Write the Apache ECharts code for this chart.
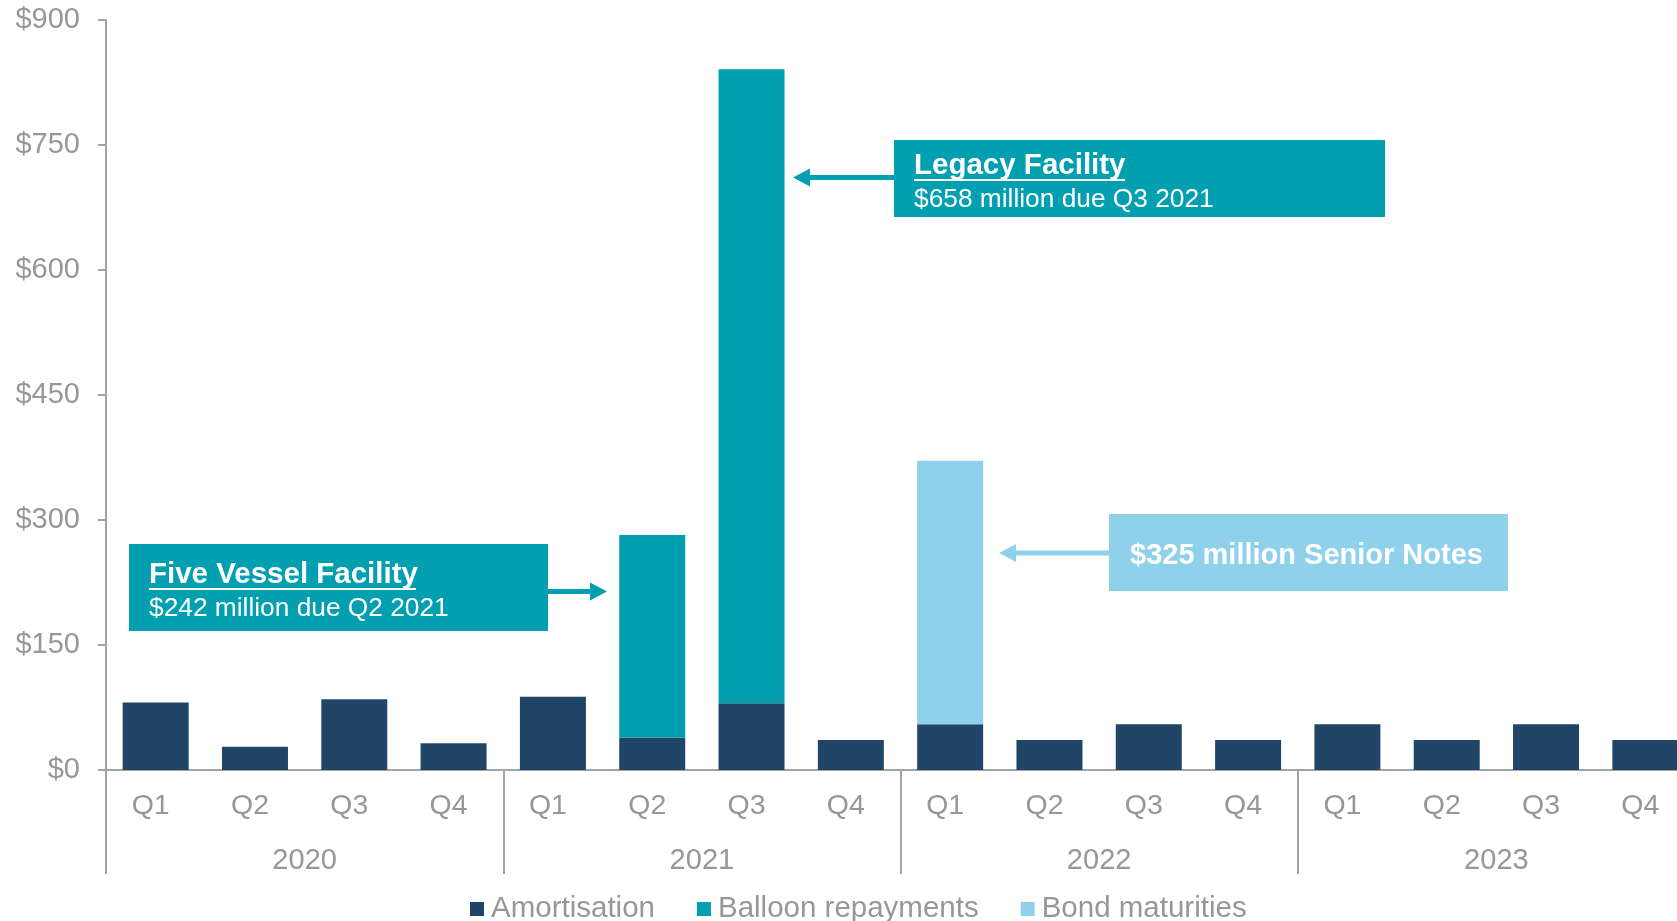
<!DOCTYPE html>
<html>
<head>
<meta charset="utf-8">
<script src="https://cdn.jsdelivr.net/npm/echarts@6/dist/echarts.min.js"></script>
<style>
    html, body { margin: 0; padding: 0; background: #fff; }
    #chart { width: 1677px; height: 921px; }
</style>
</head>
<body>
<div id="chart"></div>
<script>
const quarters = ['Q1', 'Q2', 'Q3', 'Q4', 'Q1', 'Q2', 'Q3', 'Q4', 'Q1', 'Q2', 'Q3', 'Q4', 'Q1', 'Q2', 'Q3', 'Q4'];
const years = ['2020', '2021', '2022', '2023'];
const amortisation = [81, 28, 85, 32, 88, 39, 80, 36, 55, 36, 55, 36, 55, 36, 55, 36];
const balloon = ['-', '-', '-', '-', '-', 243, 761, '-', '-', '-', '-', '-', '-', '-', '-', '-'];
const bonds = ['-', '-', '-', '-', '-', '-', '-', '-', 316, '-', '-', '-', '-', '-', '-', '-'];
const yTicks = [0, 150, 300, 450, 600, 750, 900];

const FONT = '"Liberation Sans", Arial, sans-serif';
const grey = '#979797';
const lineGrey = '#a3a3a3';
const navy = '#214567';
const teal = '#029fb0';
const lightBlue = '#8fd1ea';

const myChart = echarts.init(document.getElementById('chart'));

// arrow = shaft + head, pointing left or right
const arrow = (x1, x2, y, color) => {
    const dir = x2 > x1 ? 1 : -1;
    const back = x2 - dir * 17;
    return [
        { type: 'line', shape: { x1: x1, y1: y, x2: back, y2: y }, style: { stroke: color, lineWidth: 5 } },
        { type: 'polygon', shape: { points: [[x2, y], [back, y - 9], [back, y + 9]] }, style: { fill: color } }
    ];
};

const option = {
    animation: false,
    textStyle: { fontFamily: FONT },
    color: [navy, teal, lightBlue],
    legend: {
        left: 465,
        top: 889,
        icon: 'rect',
        itemWidth: 14,
        itemHeight: 14,
        itemGap: 42,
        textStyle: { fontSize: 29.5, color: grey, fontFamily: FONT, padding: [0, 0, 0, 2] },
        data: ['Amortisation', 'Balloon repayments', 'Bond maturities']
    },
    grid: {
        left: 106,
        top: 20,
        width: 1589,
        bottom: 151,
        outerBoundsMode: 'none'
    },
    xAxis: [{
        type: 'category',
        data: quarters,
        position: 'bottom',
        axisLine: { lineStyle: { color: lineGrey, width: 2 } },
        axisTick: { show: false },
        axisLabel: { interval: 0, margin: 22, fontSize: 28.5, color: grey, fontFamily: FONT, padding: [0, 10, 0, 0] }
    }, {
        type: 'category',
        data: years,
        position: 'bottom',
        axisLine: { show: false },
        axisTick: { show: true, length: 104, lineStyle: { color: lineGrey, width: 2 } },
        axisLabel: { interval: 0, margin: 76, fontSize: 29, color: grey, fontFamily: FONT }
    }],
    yAxis: {
        type: 'value',
        min: yTicks[0],
        max: yTicks[yTicks.length - 1],
        interval: 150,
        axisLine: { show: true, lineStyle: { color: lineGrey, width: 2 } },
        axisTick: { show: true, length: 8, lineStyle: { color: lineGrey, width: 2 } },
        splitLine: { show: false },
        axisLabel: {
            margin: 26,
            fontSize: 29,
            color: grey,
            fontFamily: FONT,
            formatter: v => '$' + v
        }
    },
    series: [{
        name: 'Amortisation',
        type: 'bar',
        stack: 'total',
        barWidth: 66,
        data: amortisation
    }, {
        name: 'Balloon repayments',
        type: 'bar',
        stack: 'total',
        barWidth: 66,
        data: balloon
    }, {
        name: 'Bond maturities',
        type: 'bar',
        stack: 'total',
        barWidth: 66,
        data: bonds
    }],
    graphic: [
        // Five Vessel Facility
        { type: 'rect', shape: { x: 129, y: 544, width: 419, height: 87 }, style: { fill: teal } },
        { type: 'text', x: 149, y: 575, style: { text: 'Five Vessel Facility', font: 'bold 29.5px ' + FONT, fill: '#fff', verticalAlign: 'middle' } },
        { type: 'rect', shape: { x: 149, y: 588, width: 267, height: 2 }, style: { fill: '#fff' } },
        { type: 'text', x: 149, y: 609, style: { text: '$242 million due Q2 2021', font: '26.3px ' + FONT, fill: '#fff', verticalAlign: 'middle' } },
        ...arrow(548, 607, 591.5, teal),
        // Legacy Facility
        { type: 'rect', shape: { x: 894, y: 140, width: 491, height: 77 }, style: { fill: teal } },
        { type: 'text', x: 914, y: 166, style: { text: 'Legacy Facility', font: 'bold 29.5px ' + FONT, fill: '#fff', verticalAlign: 'middle' } },
        { type: 'rect', shape: { x: 914, y: 179, width: 211, height: 2 }, style: { fill: '#fff' } },
        { type: 'text', x: 914, y: 200, style: { text: '$658 million due Q3 2021', font: '26.3px ' + FONT, fill: '#fff', verticalAlign: 'middle' } },
        ...arrow(894, 793, 177.5, teal),
        // Senior Notes
        { type: 'rect', shape: { x: 1109, y: 514, width: 399, height: 77 }, style: { fill: lightBlue } },
        { type: 'text', x: 1130, y: 556, style: { text: '$325 million Senior Notes', font: 'bold 29px ' + FONT, fill: '#fff', verticalAlign: 'middle' } },
        ...arrow(1109, 999, 553, lightBlue)
    ]
};

myChart.setOption(option);

window.addEventListener('resize', function () {
    myChart.resize();
});
</script>
</body>
</html>
